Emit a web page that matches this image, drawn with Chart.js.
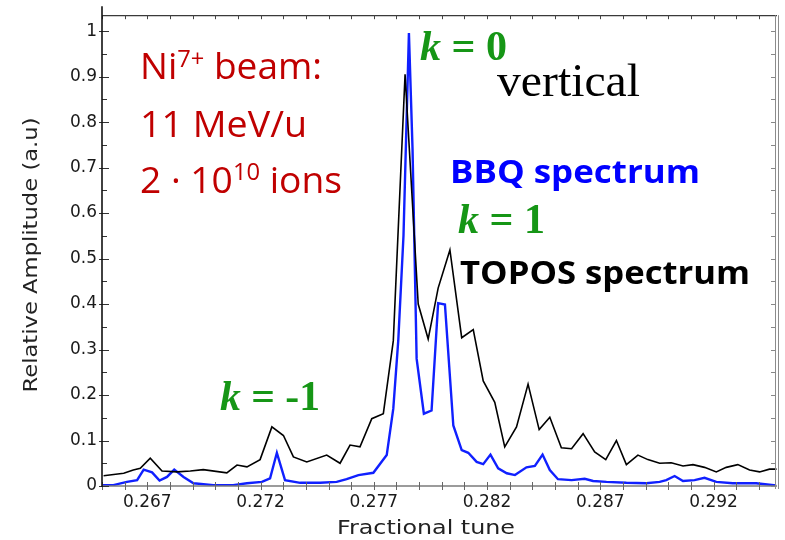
<!DOCTYPE html>
<html>
<head>
<meta charset="utf-8">
<script src="https://cdn.jsdelivr.net/npm/chart.js@4.4.1/dist/chart.umd.min.js"></script>
<style>
  html, body { margin: 0; padding: 0; background: #ffffff; }
  #wrap { width: 785px; height: 540px; }
</style>
</head>
<body>
<div id="wrap"><canvas id="c" width="785" height="540"></canvas></div>
<script>
// ---------- data ----------
const topoTune = [0.26507,0.26596,0.26638,0.26669,0.26713,0.26765,0.26831,0.26890,0.26947,0.27051,
  0.27096,0.27140,0.27198,0.27250,0.27301,0.27345,0.27404,0.27492,0.27551,0.27595,
  0.27639,0.27691,0.27742,0.27786,0.27838,0.27896,0.27940,0.27984,0.28036,0.28088,
  0.28139,0.28183,0.28234,0.28278,0.28330,0.28381,0.28430,0.28477,0.28528,0.28573,
  0.28624,0.28675,0.28724,0.28771,0.28815,0.28866,0.28910,0.28962,0.29013,0.29065,
  0.29109,0.29160,0.29212,0.29256,0.29307,0.29359,0.29403,0.29447,0.29478];
const topoAmp = [0.0225,0.028,0.035,0.039,0.061,0.033,0.031,0.033,0.036,0.029,
  0.046,0.042,0.058,0.130,0.111,0.064,0.053,0.068,0.050,0.090,
  0.086,0.148,0.159,0.319,0.905,0.400,0.323,0.435,0.519,0.326,
  0.344,0.231,0.184,0.086,0.130,0.224,0.124,0.151,0.084,0.082,
  0.115,0.075,0.058,0.100,0.047,0.068,0.058,0.050,0.051,0.044,
  0.047,0.041,0.031,0.041,0.047,0.035,0.031,0.037,0.037];

const bbqTune = [0.26500,0.26550,0.26610,0.26655,0.26684,0.26721,0.26754,0.26787,0.26819,0.26860,
  0.26904,0.26992,0.27079,0.27140,0.27206,0.27242,0.27272,0.27308,0.27375,0.27463,
  0.27536,0.27580,0.27632,0.27698,0.27757,0.27786,0.27808,0.27831,0.27855,0.27871,
  0.27889,0.27921,0.27955,0.27984,0.28014,0.28051,0.28088,0.28117,0.28154,0.28183,
  0.28215,0.28249,0.28287,0.28323,0.28374,0.28411,0.28445,0.28477,0.28513,0.28573,
  0.28631,0.28668,0.28727,0.28815,0.28903,0.28962,0.28991,0.29028,0.29065,0.29116,
  0.29160,0.29212,0.29285,0.29388,0.29476];
const bbqAmp = [0.002,0.002,0.009,0.013,0.036,0.030,0.012,0.020,0.036,0.020,
  0.006,0.002,0.002,0.006,0.009,0.017,0.073,0.013,0.007,0.007,
  0.009,0.015,0.024,0.029,0.068,0.17,0.32,0.55,0.996,0.74,
  0.28,0.159,0.166,0.402,0.399,0.133,0.079,0.073,0.053,0.048,
  0.069,0.039,0.028,0.024,0.041,0.044,0.069,0.035,0.015,0.013,
  0.016,0.011,0.009,0.007,0.006,0.009,0.013,0.022,0.011,0.013,
  0.018,0.009,0.006,0.006,0.001];

const xTickValues = [0.267,0.272,0.277,0.282,0.287,0.292];
const xTickLabels = ['0.267','0.272','0.277','0.282','0.287','0.292'];
const yTickValues = [0,0.1,0.2,0.3,0.4,0.5,0.6,0.7,0.8,0.9,1];
const yTickLabels = ['0','0.1','0.2','0.3','0.4','0.5','0.6','0.7','0.8','0.9','1'];
const xRange = [0.265, 0.2948];
const yRange = [0, 1.035];
const xTitle = 'Fractional tune';
const yTitle = 'Relative Amplitude (a.u)';

// ---------- helpers ----------
function toPoints(xs, ys) { return xs.map((x, i) => ({ x: x, y: ys[i] })); }

function drawFit(ctx, runs, x, y, targetWidth, color, rot, centered) {
  let total = 0;
  for (const r of runs) { ctx.font = r[1]; total += ctx.measureText(r[0]).width; }
  const sx = targetWidth ? targetWidth / total : 1;
  ctx.save();
  ctx.translate(x, y);
  if (rot) ctx.rotate(rot);
  ctx.scale(sx, 1);
  ctx.fillStyle = color;
  ctx.textBaseline = 'alphabetic';
  ctx.textAlign = 'left';
  let cx = centered ? -total / 2 : 0;
  for (const r of runs) {
    ctx.font = r[1];
    ctx.fillText(r[0], cx, r[2] || 0);
    cx += ctx.measureText(r[0]).width;
  }
  ctx.restore();
}

const framePlugin = {
  id: 'frame',
  afterDatasetsDraw(chart) {
    const ctx = chart.ctx;
    const { left, right, top, bottom } = chart.chartArea;
    const xs = chart.scales.x, ys = chart.scales.y;
    ctx.save();
    ctx.strokeStyle = '#3a3a3a'; ctx.lineWidth = 1.2;
    ctx.beginPath(); ctx.moveTo(left, top + 0.5); ctx.lineTo(right, top + 0.5); ctx.stroke();
    ctx.strokeStyle = '#7a7a7a'; ctx.lineWidth = 1.5;
    ctx.beginPath(); ctx.moveTo(left, bottom); ctx.lineTo(right, bottom); ctx.stroke();
    ctx.strokeStyle = '#8c8c8c'; ctx.lineWidth = 1;
    ctx.beginPath(); ctx.moveTo(right - 1.5, top); ctx.lineTo(right - 1.5, bottom + 3);
    ctx.moveTo(right + 1.5, top); ctx.lineTo(right + 1.5, bottom + 3); ctx.stroke();
    for (let i = 0; ; i++) {
      const v = xRange[0] + i * 0.001;
      if (v > xRange[1]) break;
      const px = Math.round(xs.getPixelForValue(v)) + 0.5;
      ctx.strokeStyle = '#666'; ctx.lineWidth = 1;
      ctx.beginPath(); ctx.moveTo(px, bottom - 4); ctx.lineTo(px, bottom + 4); ctx.stroke();
      ctx.strokeStyle = '#444';
      ctx.beginPath(); ctx.moveTo(px, top); ctx.lineTo(px, top + 4); ctx.stroke();
    }
    for (let i = 0; i <= 20; i++) {
      const v = i * 0.05;
      const py = Math.round(ys.getPixelForValue(v)) + 0.5;
      ctx.strokeStyle = '#333'; ctx.lineWidth = 1;
      ctx.beginPath();
      if (i % 2 === 0) { ctx.moveTo(left - 3, py); ctx.lineTo(left + 7, py); }
      else { ctx.moveTo(left, py); ctx.lineTo(left + 5, py); }
      ctx.stroke();
      ctx.strokeStyle = '#888';
      ctx.beginPath(); ctx.moveTo(right - 1.5, py); ctx.lineTo(right - 6, py); ctx.stroke();
    }
    ctx.strokeStyle = '#111'; ctx.lineWidth = 1.6;
    ctx.beginPath(); ctx.moveTo(left, top - 9); ctx.lineTo(left, bottom + 1); ctx.stroke();
    ctx.restore();
  }
};

const annotPlugin = {
  id: 'annot',
  afterDraw(chart) {
    const ctx = chart.ctx;
    const T = '19px "DejaVu Sans"';
    drawFit(ctx, [[xTitle, T]], 426, 534, 178, '#222222', 0, true);
    drawFit(ctx, [[yTitle, T]], 37, 255, 275, '#222222', -Math.PI / 2, true);

    const red = '#c00000', green = '#169616';
    const R = '36px "Open Sans"', Rs = '23px "Open Sans"';
    drawFit(ctx, [['Ni', R], ['7+', Rs, -12], [' beam:', R]], 140, 79, 182, red);
    drawFit(ctx, [['11 MeV/u', R]], 140, 137, 167, red);
    drawFit(ctx, [['2 \u00b7 10', R], ['10', Rs, -13], [' ions', R]], 140, 193, 202, red);

    const KI = 'italic bold 42px "Liberation Serif"', KB = 'bold 42px "Liberation Serif"';
    drawFit(ctx, [['k', KI], [' = 0', KB]], 420, 60, 87, green);
    drawFit(ctx, [['k', KI], [' = 1', KB]], 458, 233, 87, green);
    drawFit(ctx, [['k', KI], [' = -1', KB]], 220, 410, 100, green);

    drawFit(ctx, [['vertical', '46px "Liberation Serif"']], 497, 96, 143, '#000000');
    drawFit(ctx, [['BBQ spectrum', 'bold 33px "Open Sans"']], 450, 183, 250, '#0000ff');
    drawFit(ctx, [['TOPOS spectrum', 'bold 33px "Open Sans"']], 460, 284, 290, '#000000');
  }
};

new Chart(document.getElementById('c'), {
  type: 'line',
  data: {
    datasets: [
      {
        label: 'TOPOS spectrum',
        data: toPoints(topoTune, topoAmp),
        borderColor: '#000000',
        borderWidth: 1.6,
        pointRadius: 0,
        tension: 0,
        fill: false
      },
      {
        label: 'BBQ spectrum',
        data: toPoints(bbqTune, bbqAmp),
        borderColor: '#1020ff',
        borderWidth: 2.4,
        pointRadius: 0,
        tension: 0,
        fill: false
      }
    ]
  },
  options: {
    responsive: false,
    animation: false,
    devicePixelRatio: 1,
    layout: { padding: { left: 0, right: 8, top: 12, bottom: 0 } },
    plugins: { legend: { display: false }, tooltip: { enabled: false } },
    scales: {
      x: {
        type: 'linear',
        min: xRange[0], max: xRange[1],
        afterBuildTicks: s => { s.ticks = xTickValues.map(v => ({ value: v })); },
        afterFit: s => { s.height = 54; },
        grid: { display: false, drawTicks: false },
        border: { display: false },
        ticks: {
          autoSkip: false, maxRotation: 0, padding: 6,
          color: '#1a1a1a',
          font: { family: 'DejaVu Sans', size: 17 },
          callback: (v, i) => xTickLabels[i]
        },
        title: { display: false }
      },
      y: {
        type: 'linear',
        min: yRange[0], max: yRange[1],
        afterBuildTicks: s => { s.ticks = yTickValues.map(v => ({ value: v })); },
        afterFit: s => { s.width = 102; },
        grid: { display: false, drawTicks: false },
        border: { display: false },
        ticks: {
          autoSkip: false, padding: 5,
          color: '#1a1a1a',
          font: { family: 'DejaVu Sans', size: 17 },
          callback: (v, i) => yTickLabels[i]
        },
        title: { display: false }
      }
    }
  },
  plugins: [framePlugin, annotPlugin]
});
</script>
</body>
</html>
